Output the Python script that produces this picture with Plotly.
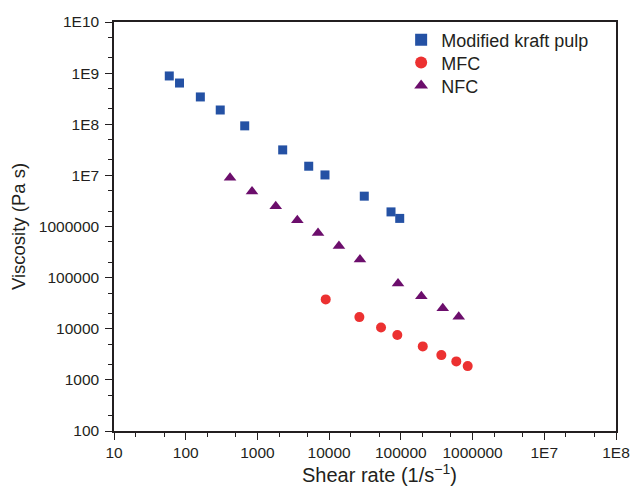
import plotly.graph_objects as go

# Data
kraft_x = [59, 82, 160, 303, 665, 2250, 5190, 8750, 30900, 72900, 96400]
kraft_y = [8.8e8, 6.4e8, 3.42e8, 1.9e8, 9.3e7, 3.15e7, 1.51e7, 1.02e7, 3.92e6, 1.93e6, 1.44e6]

mfc_x = [8960, 26400, 52900, 89300, 202000, 367000, 593000, 855000]
mfc_y = [3.75e4, 1.69e4, 1.06e4, 7520, 4520, 3050, 2300, 1860]

nfc_x = [415, 840, 1800, 3600, 7000, 13700, 26900, 91300, 193000, 384000, 641000]
nfc_y = [9.0e6, 4.86e6, 2.48e6, 1.32e6, 7.48e5, 4.17e5, 2.25e5, 7.64e4, 4.31e4, 2.51e4, 1.71e4]

x_tickvals = [10, 100, 1000, 1e4, 1e5, 1e6, 1e7, 1e8]
x_ticktext = ["10", "100", "1000", "10000", "100000", "1000000", "1E7", "1E8"]
y_tickvals = [1e2, 1e3, 1e4, 1e5, 1e6, 1e7, 1e8, 1e9, 1e10]
y_ticktext = ["100", "1000", "10000", "100000", "1000000", "1E7", "1E8", "1E9", "1E10"]

x_title = "Shear rate (1/s<sup>\u22121</sup>)"
y_title = "Viscosity (Pa s)"

ink = "#231F20"
font_family = "Liberation Sans, Arial, sans-serif"

fig = go.Figure()
fig.add_trace(go.Scatter(x=kraft_x, y=kraft_y, mode="markers", name="Modified kraft pulp",
                         legend="legend",
                         marker=dict(symbol="square", size=9, color="#2451A4")))
fig.add_trace(go.Scatter(x=mfc_x, y=mfc_y, mode="markers", name="MFC",
                         legend="legend2",
                         marker=dict(symbol="circle", size=10, color="#EC3131")))
fig.add_trace(go.Scatter(x=nfc_x, y=nfc_y, mode="markers", name="NFC",
                         legend="legend3",
                         marker=dict(symbol="triangle-up", size=11, color="#6C0E6C")))

axis_common = dict(
    showgrid=False, zeroline=False, showline=True, linecolor=ink, linewidth=1.5,
    mirror=True, ticks="outside", ticklen=7, tickwidth=1.2, tickcolor=ink,
    tickfont=dict(size=15.5, color=ink, family=font_family),
    minor=dict(ticks="outside", ticklen=4, tickwidth=1, tickcolor=ink, showgrid=False),
)

fig.update_xaxes(type="log", range=[1, 8], tickvals=x_tickvals, ticktext=x_ticktext,
                 **axis_common)
fig.update_yaxes(type="log", range=[2, 10], tickvals=y_tickvals, ticktext=y_ticktext,
                 ticklabelstandoff=3,
                 title=dict(text=y_title, standoff=8,
                            font=dict(size=18.5, color=ink, family=font_family)),
                 **axis_common)

legend_common = dict(x=0.572, xanchor="left", yanchor="middle",
                     bgcolor="rgba(0,0,0,0)", borderwidth=0,
                     font=dict(size=18, color=ink, family=font_family),
                     itemsizing="constant")

fig.add_annotation(text=x_title, xref="paper", yref="paper", x=0.528, y=-0.104,
                   xanchor="center", yanchor="middle", showarrow=False,
                   font=dict(size=20, color=ink, family=font_family))

fig.update_layout(
    width=633, height=488,
    margin=dict(l=114, r=17, t=22, b=57, autoexpand=False),
    paper_bgcolor="white", plot_bgcolor="white",
    font=dict(family=font_family, color=ink),
    showlegend=True,
    legend=dict(y=0.956, **legend_common),
    legend2=dict(y=0.900, **legend_common),
    legend3=dict(y=0.844, **legend_common),
)

fig.write_html("out.html", config={"displayModeBar": False},
               post_script="document.body.style.margin='0';document.body.style.padding='0';")
